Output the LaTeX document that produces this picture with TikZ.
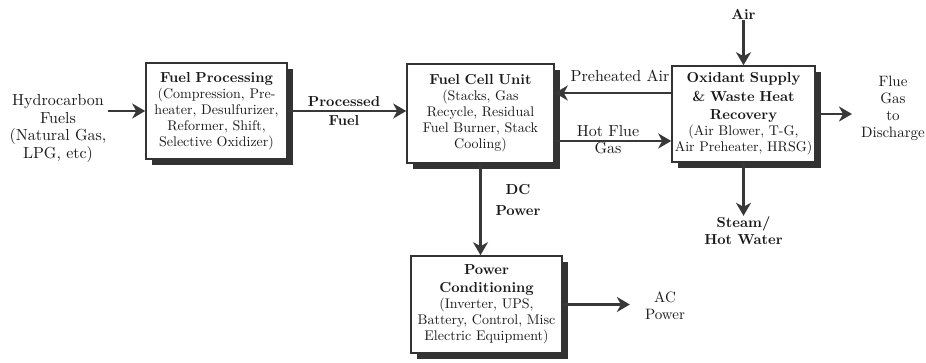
\documentclass[tikz,border=0pt]{standalone}
\usepackage{fontspec}
\setmainfont{lmroman10}[Extension=.otf,UprightFont=*-regular,BoldFont=*-bold,ItalicFont=*-italic]
\usetikzlibrary{arrows.meta,shadows}
\begin{document}
\begin{tikzpicture}[x=1pt,y=-1pt,
unit/.style={draw=black!80,line width=1.6pt,fill=white,align=center,inner sep=2pt,minimum height=96pt,text=black!90,font=\fontsize{14}{16}\selectfont,drop shadow={shadow xshift=6pt,shadow yshift=-6pt,fill=black!80,opacity=1}},
flow/.style={align=center,inner sep=1pt,text=black!90,font=\fontsize{16}{17.7}\selectfont},
flowbf/.style={flow,font=\fontsize{14.5}{17.7}\selectfont\bfseries},
line/.style={draw=black!78,line width=2.6pt,-{Stealth[length=13pt,width=15pt,inset=4pt]}}
]
\useasboundingbox (0,0) rectangle (926,362);
\node[unit,minimum width=141pt,text width=137pt] (fp) at (216.5,111) {{\fontsize{14.5}{18.5}\selectfont\bfseries Fuel Processing\\}(Compression, Pre-\\heater, Desulfurizer,\\Reformer, Shift,\\Selective Oxidizer)};
\node[unit,minimum width=147pt,text width=143pt,minimum height=99pt] (fcu) at (480.5,113.5) {{\fontsize{14.5}{18.5}\selectfont\bfseries Fuel Cell Unit\\}(Stacks, Gas\\Recycle, Residual\\Fuel Burner, Stack\\Cooling)};
\node[unit,minimum width=143pt,text width=139pt] (ox) at (743.5,114) {{\fontsize{14.5}{18.5}\selectfont\bfseries Oxidant Supply\\\& Waste Heat\\Recovery\\}(Air Blower, T-G,\\Air Preheater, HRSG)};
\node[unit,minimum width=151pt,text width=147pt,minimum height=97pt] (pc) at (486.5,304.5) {{\fontsize{14.5}{18.5}\selectfont\bfseries Power\\Conditioning\\}(Inverter, UPS,\\Battery, Control, Misc\\Electric Equipment)};
\node[flow] (hc) at (58,128.5) {Hydrocarbon\\Fuels\\(Natural Gas,\\LPG, etc)};
\node[flowbf,font=\fontsize{14.5}{19}\selectfont\bfseries] (pf) at (344,111) {Processed\\Fuel};
\node[flow] (pa) at (620,76) {Preheated Air};
\node[flow,font=\fontsize{16}{17}\selectfont] (hg) at (608,140) {Hot Flue\\Gas};
\node[flowbf] (air) at (743.5,14) {Air};
\node[flow,font=\fontsize{15}{17}\selectfont] (flue) at (893,108.5) {Flue\\Gas\\to\\Discharge};
\node[flowbf,font=\fontsize{14.5}{17}\selectfont\bfseries] (steam) at (743.5,231) {Steam/\\Hot Water};
\node[flowbf,font=\fontsize{14.5}{21}\selectfont\bfseries] (dc) at (518,200) {DC\\Power};
\node[flow,font=\fontsize{15}{17}\selectfont] (ac) at (665,306) {AC\\Power};
\draw[line] (hc.east |- fp.west) -- (fp.west);
\draw[line] (fp.east) -- (fp.east -| fcu.west);
\draw[line] ([yshift=21pt]ox.west) -- ([yshift=21pt]ox.west -| fcu.east);
\draw[line] ([yshift=-27.5pt]fcu.east) -- ([yshift=-27.5pt]fcu.east -| ox.west);
\draw[line] (air) -- (ox);
\draw[line] (ox.east) -- ([xshift=-8pt]ox.east -| flue.west);
\draw[line] (ox.south) -- (steam.north);
\draw[line] (fcu.south) -- (fcu.south |- pc.north);
\draw[line] (pc.east) -- ([xshift=-14pt]pc.east -| ac.west);
\end{tikzpicture}
\end{document}
